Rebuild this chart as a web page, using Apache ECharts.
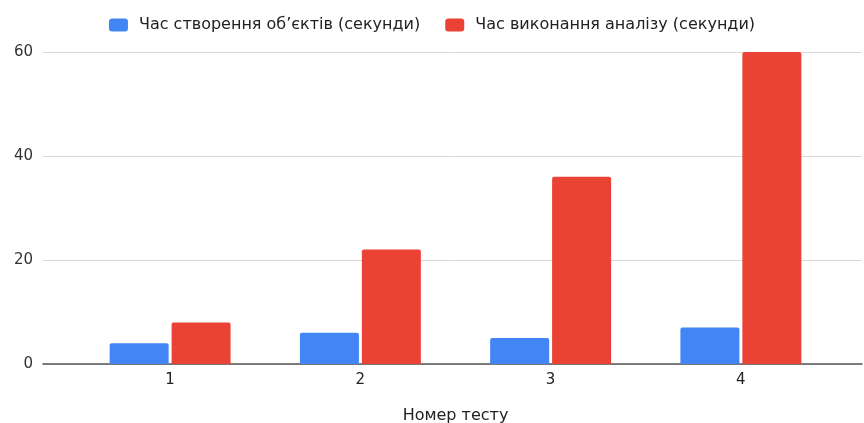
<!DOCTYPE html>
<html>
<head>
<meta charset="utf-8">
<script src="https://cdn.jsdelivr.net/npm/echarts@6/dist/echarts.min.js"></script>
<style>
  html, body { margin: 0; padding: 0; background: #fff; }
  #chart { width: 864px; height: 423px; }
</style>
</head>
<body>
<div id="chart"></div>
<script>
// Test numbers on the horizontal axis
const categories = ['1', '2', '3', '4'];
// Object creation time, seconds
const creationTime = [4, 6, 5, 7];
// Analysis execution time, seconds
const analysisTime = [8, 22, 36, 60];
// Value axis ticks
const yTicks = [0, 20, 40, 60];

const seriesNames = ['Час створення об\u2019єктів (секунди)', 'Час виконання аналізу (секунди)'];
const colors = ['#4285F4', '#EA4335'];
const font = '"DejaVu Sans", Arial, sans-serif';

const chart = echarts.init(document.getElementById('chart'), null, { renderer: 'canvas' });

chart.setOption({
  animation: false,
  color: colors,
  legend: {
    top: 12,
    left: 'center',
    itemWidth: 19,
    itemHeight: 13,
    itemGap: 25,
    icon: 'roundRect',
    textStyle: { fontFamily: font, fontSize: 16, color: '#222', padding: [0, 0, 0, 6] },
    data: seriesNames
  },
  grid: [
    // background grid: value labels, gridlines and baseline across the full width
    { left: 43, right: 2, top: 52, bottom: 59, outerBoundsMode: 'none', containLabel: false },
    // bar grid, inset from the gridlines
    { left: 75, right: 28, top: 52, bottom: 59, outerBoundsMode: 'none', containLabel: false }
  ],
  xAxis: [
    {
      gridIndex: 0, type: 'value', min: 0, max: 1,
      axisLine: { show: true, onZero: false, lineStyle: { color: '#555', width: 1.5 } },
      axisTick: { show: false }, axisLabel: { show: false }, splitLine: { show: false }
    },
    {
      gridIndex: 1, type: 'category', data: categories,
      axisLine: { show: false }, axisTick: { show: false },
      axisLabel: { fontFamily: font, fontSize: 15, color: '#222', margin: 9 },
      name: 'Номер тесту', nameLocation: 'middle', nameGap: 44,
      nameTextStyle: { fontFamily: font, fontSize: 16, color: '#222' }
    }
  ],
  yAxis: [
    {
      gridIndex: 0, type: 'value', min: yTicks[0], max: yTicks[yTicks.length - 1],
      interval: yTicks[1] - yTicks[0],
      axisLine: { show: false }, axisTick: { show: false },
      axisLabel: { fontFamily: font, fontSize: 15, color: '#333', margin: 10 },
      splitLine: { lineStyle: { color: '#d9d9d9', width: 1 } }
    },
    {
      gridIndex: 1, type: 'value', min: yTicks[0], max: yTicks[yTicks.length - 1],
      show: false, splitLine: { show: false }
    }
  ],
  series: [
    {
      name: seriesNames[0], type: 'bar', xAxisIndex: 1, yAxisIndex: 1,
      data: creationTime, barWidth: 59, barGap: '5%',
      itemStyle: { color: colors[0], borderRadius: [2, 2, 0, 0] }
    },
    {
      name: seriesNames[1], type: 'bar', xAxisIndex: 1, yAxisIndex: 1,
      data: analysisTime, barWidth: 59, barGap: '5%',
      itemStyle: { color: colors[1], borderRadius: [2, 2, 0, 0] }
    }
  ]
});
</script>
</body>
</html>
